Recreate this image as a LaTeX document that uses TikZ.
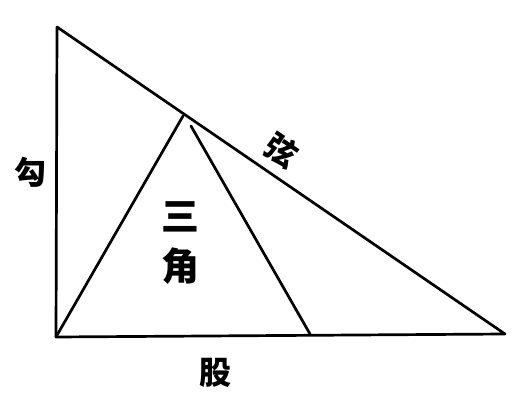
\documentclass[tikz,border=0pt]{standalone}
\usepackage{fontspec}
\newfontfamily\cjk{Noto Sans CJK SC}
\begin{document}
\begin{tikzpicture}[x=1pt,y=-1pt,
  edge/.style={line width=2.7pt,line join=round,line cap=round},
  lbl/.style={font=\cjk\bfseries\fontsize{32}{32}\selectfont,inner sep=0pt},
  biglbl/.style={font=\cjk\bfseries\fontsize{38}{38}\selectfont,inner sep=0pt}]
\useasboundingbox (0,0) rectangle (520,410);
\coordinate (A) at (57,27);
\coordinate (B) at (56,337);
\coordinate (C) at (505,334);
\coordinate (P) at (183,116);
\coordinate (Q) at (191,126);
\coordinate (R) at (310,334);
\draw[edge] (A) -- (B) -- (C) -- cycle;
\draw[edge] (B) -- (P);
\draw[edge] (Q) -- (R);
\node[lbl] (gou) at (30,172) {勾};
\node[lbl,rotate=-34] (xian) at (282,150) {弦};
\node[lbl] (gu) at (215,373) {股};
\node[biglbl] (san) at (180,217) {三};
\node[biglbl] (jiao) at (180,266) {角};
\end{tikzpicture}
\end{document}
